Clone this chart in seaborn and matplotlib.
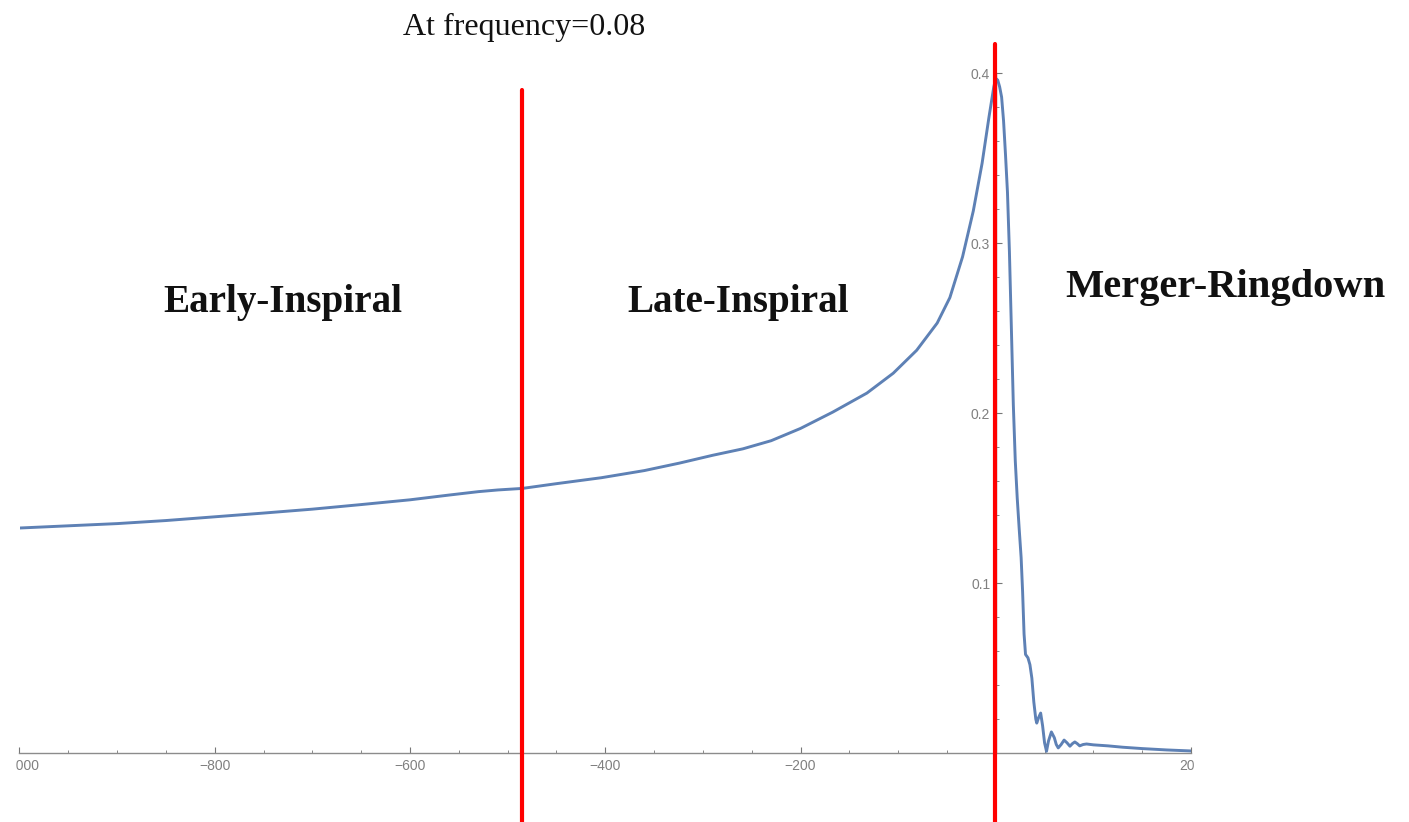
import numpy as np
import pandas as pd
import matplotlib
matplotlib.use("Agg")
import matplotlib.pyplot as plt
from matplotlib.ticker import MultipleLocator
from matplotlib.patches import Rectangle
import seaborn as sns

# ---- data ----
time = [-1000, -950, -900, -850, -800, -750, -700, -650, -600, -560, -530, -510,
        -485, -450, -404, -360, -324, -290, -259, -230, -200, -167, -132, -105,
        -81, -60, -47, -34, -23, -14, -7, -2, 0, 2, 4, 6, 8, 10, 12, 14, 16, 18,
        20, 22, 24, 26, 27.5, 29, 30.5, 33, 35, 37, 39, 41, 42, 44, 46, 48, 50,
        52, 54, 57, 60, 62, 64, 67, 70, 73, 76, 78.5, 81, 83.5, 86, 89.5, 93,
        100, 115, 130, 150, 175, 200]
amplitude = [0.1324, 0.1337, 0.1350, 0.1368, 0.1390, 0.1412, 0.1435, 0.1462,
             0.1490, 0.1518, 0.1538, 0.1548, 0.1557, 0.1585, 0.1620, 0.1662,
             0.1706, 0.1752, 0.1790, 0.1838, 0.1910, 0.2006, 0.2118, 0.2235,
             0.2370, 0.2530, 0.2680, 0.2920, 0.3190, 0.3470, 0.3740, 0.3920,
             0.3970, 0.3960, 0.3920, 0.3860, 0.3720, 0.3520, 0.3300, 0.2950,
             0.2500, 0.2050, 0.1720, 0.1500, 0.1320, 0.1150, 0.0950, 0.0700,
             0.0580, 0.0560, 0.0520, 0.0440, 0.0300, 0.0200, 0.0176, 0.0210,
             0.0235, 0.0160, 0.0060, 0.0010, 0.0070, 0.0124, 0.0090, 0.0050,
             0.0030, 0.0050, 0.0076, 0.0060, 0.0040, 0.0055, 0.0065, 0.0055,
             0.0042, 0.0050, 0.0053, 0.0048, 0.0042, 0.0034, 0.0026, 0.0018,
             0.0012]

x_ticks = [-1000, -800, -600, -400, -200, 200]
x_tick_labels = ["\u22121000", "\u2212800", "\u2212600", "\u2212400", "\u2212200", "200"]
y_ticks = [0.1, 0.2, 0.3, 0.4]
y_tick_labels = ["0.1", "0.2", "0.3", "0.4"]

boundaries = [-485.3, -1.0]          # red separator lines
region_labels = ["Early-Inspiral", "Late-Inspiral", "Merger-Ringdown"]
top_note = "At frequency=0.08"

df = pd.DataFrame({"time": time, "amplitude": amplitude})

# ---- figure ----
W, H = 1409, 822
sns.set_theme(style="white")
plt.rcParams["font.family"] = ["Liberation Sans", "DejaVu Sans"]

fig = plt.figure(figsize=(W / 100, H / 100), dpi=100)
fig.patch.set_facecolor("white")

# axes placed so that x:-1000..200 -> px 19.5..1191, y:0..0.4 -> px 753..73.3
ax_left, ax_right = 19.5, 1191.0
ax_bottom, ax_top = 753.0, 73.3
ax = fig.add_axes([ax_left / W, 1 - ax_bottom / H,
                   (ax_right - ax_left) / W, (ax_bottom - ax_top) / H])
ax.set_facecolor("white")

sns.lineplot(data=df, x="time", y="amplitude", ax=ax, color="#5e81b5",
             linewidth=2.1, zorder=3)

ax.set_xlim(-1000, 200)
ax.set_ylim(0, 0.4)
ax.set_xlabel("")
ax.set_ylabel("")

axis_col = "#8c8c8c"
for s in ["top", "right"]:
    ax.spines[s].set_visible(False)
ax.spines["left"].set_position(("data", 0))
ax.spines["bottom"].set_position(("data", 0))
for s in ["left", "bottom"]:
    ax.spines[s].set_color(axis_col)
    ax.spines[s].set_linewidth(1.0)

ax.set_xticks(x_ticks)
ax.set_xticklabels(x_tick_labels)
ax.set_yticks(y_ticks)
ax.set_yticklabels(y_tick_labels)
ax.xaxis.set_minor_locator(MultipleLocator(50))
ax.yaxis.set_minor_locator(MultipleLocator(0.02))
ax.tick_params(axis="both", which="major", direction="in", length=4.5, width=0.8,
               color="#777777", labelsize=10, labelcolor="#808080", pad=4)
ax.tick_params(axis="both", which="minor", direction="in", length=2.5, width=0.7,
               color="#888888")
ax.tick_params(axis="x", which="both", bottom=True)
ax.tick_params(axis="y", which="both", left=True)

# red separator lines (extend past the axes like in the reference)
ax.axvline(boundaries[0], ymin=-0.11, ymax=0.9754, color="red", linewidth=3.0,
           clip_on=False, zorder=5)
ax.axvline(boundaries[1], ymin=-0.11, ymax=1.0431, color="red", linewidth=3.0,
           clip_on=False, zorder=5)

# texts
def ftext(px, py, s, **kw):
    fig.text(px / W, 1 - py / H, s, ha="center", va="baseline", **kw)

ftext(524.5, 35, top_note, fontsize=23, family=["Liberation Serif", "DejaVu Serif"],
      color="#111111")
ftext(282.5, 312, region_labels[0], fontsize=28.2, fontweight="bold",
      family=["Liberation Serif", "DejaVu Serif"], color="#111111")
ftext(738.5, 312, region_labels[1], fontsize=28.2, fontweight="bold",
      family=["Liberation Serif", "DejaVu Serif"], color="#111111")
ftext(1225, 297, region_labels[2], fontsize=29.2, fontweight="bold",
      family=["Liberation Serif", "DejaVu Serif"], color="#111111")

# crop edges of the original plot image (label area only)
fig.add_artist(Rectangle((1194 / W, 1 - 800 / H), (W - 1194) / W, 44 / H,
                         transform=fig.transFigure, color="white", zorder=10))
fig.add_artist(Rectangle((0, 1 - 800 / H), 15 / W, 44 / H,
                         transform=fig.transFigure, color="white", zorder=10))

fig.savefig("out.png", dpi=100, facecolor="white")
